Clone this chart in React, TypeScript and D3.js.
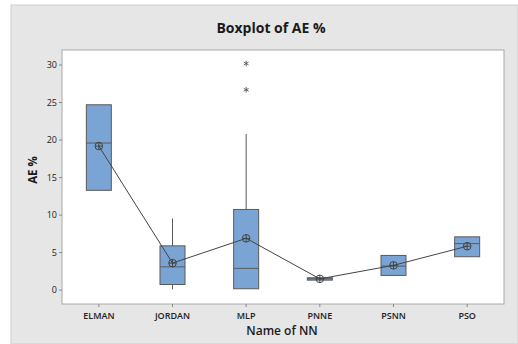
import React from "react";
import * as d3 from "d3";

const categories = ["ELMAN", "JORDAN", "MLP", "PNNE", "PSNN", "PSO"];
const q1 = [13.3, 0.75, 0.18, 1.33, 1.96, 4.45];
const medians = [19.6, 3.1, 2.9, 1.5, 3.2, 6.2];
const q3 = [24.7, 5.9, 10.75, 1.65, 4.62, 7.1];
const whiskerLow = [13.3, 0.1, 0.18, 1.33, 1.96, 4.45];
const whiskerHigh = [24.7, 9.55, 20.8, 1.65, 4.62, 7.1];
const means = [19.2, 3.6, 6.9, 1.5, 3.3, 5.85];
const outliers = [[], [], [30.2, 26.7], [], [], []] as number[][];
const yTicks = [0, 5, 10, 15, 20, 25, 30];

export default function App() {
  const W = 518, H = 344;
  const left = 62, right = 504, top = 50, bottom = 304;
  const x = d3.scalePoint<string>().domain(categories).range([left, right]).padding(0.5);
  const y = d3.scaleLinear().domain([-1.85, 32]).range([bottom, top]);
  const bw = 25;
  const font = "'Open Sans', 'Noto Sans', sans-serif";
  const stroke = "#5a5a5a";
  const line = d3.line<number>().x((_, i) => x(categories[i])!).y((d) => y(d));

  return (
    <svg width={W} height={H} style={{ position: "absolute", left: 0, top: 0 }} fontFamily={font}>
      <rect x={0} y={0} width={W} height={H} fill="#ffffff" />
      <rect x={11} y={5} width={W - 11} height={H - 5} fill="#e6e6e6" stroke="#cfcfcf" />
      <text x={(left + right) / 2 - 12} y={33} textAnchor="middle" fontSize={14} fontWeight="bold" fill="#1a1a1a">
        Boxplot of AE %
      </text>
      <rect x={left} y={top} width={right - left} height={bottom - top} fill="#ffffff" stroke="#a8a8a8" />
      {yTicks.map((t) => (
        <g key={t}>
          <line x1={left - 3} x2={left} y1={y(t)} y2={y(t)} stroke="#888" />
          <text x={left - 5} y={y(t) + 3} textAnchor="end" fontSize={9} fill="#222">
            {t}
          </text>
        </g>
      ))}
      {categories.map((c) => (
        <g key={c}>
          <line x1={x(c)!} x2={x(c)!} y1={bottom} y2={bottom + 3} stroke="#888" />
          <text x={x(c)!} y={bottom + 15} textAnchor="middle" fontSize={9} fontWeight="600" fill="#222">
            {c}
          </text>
        </g>
      ))}
      <text
        transform={`translate(37,${(top + bottom) / 2 - 7}) rotate(-90)`}
        textAnchor="middle"
        fontSize={11.5}
        fontWeight="bold"
        fill="#1a1a1a"
      >
        AE %
      </text>
      <text x={(left + right) / 2 - 1} y={335} textAnchor="middle" fontSize={12} fontWeight="600" fill="#1a1a1a">
        Name of NN
      </text>
      {categories.map((c, i) => {
        const cx = x(c)!;
        return (
          <g key={c}>
            {whiskerHigh[i] > q3[i] && (
              <line x1={cx} x2={cx} y1={y(q3[i])} y2={y(whiskerHigh[i])} stroke={stroke} />
            )}
            {whiskerLow[i] < q1[i] && (
              <line x1={cx} x2={cx} y1={y(q1[i])} y2={y(whiskerLow[i])} stroke={stroke} />
            )}
            <rect
              x={cx - bw / 2}
              y={y(q3[i])}
              width={bw}
              height={y(q1[i]) - y(q3[i])}
              fill="#7aa4d4"
              stroke={stroke}
              strokeWidth={1}
            />
            <line x1={cx - bw / 2} x2={cx + bw / 2} y1={y(medians[i])} y2={y(medians[i])} stroke={stroke} />
            {outliers[i].map((o, j) => {
              const oy = y(o);
              const r = 2.8;
              return (
                <g key={j} stroke="#555" strokeWidth={0.9}>
                  <line x1={cx} x2={cx} y1={oy - r} y2={oy + r} />
                  <line x1={cx - r * 0.87} x2={cx + r * 0.87} y1={oy - r * 0.5} y2={oy + r * 0.5} />
                  <line x1={cx - r * 0.87} x2={cx + r * 0.87} y1={oy + r * 0.5} y2={oy - r * 0.5} />
                </g>
              );
            })}
          </g>
        );
      })}
      <path d={line(means) || ""} fill="none" stroke="#444" strokeWidth={1} />
      {categories.map((c, i) => {
        const cx = x(c)!;
        const cy = y(means[i]);
        return (
          <g key={c} stroke="#444" fill="none" strokeWidth={1}>
            <circle cx={cx} cy={cy} r={3.8} />
            <line x1={cx - 3.8} x2={cx + 3.8} y1={cy} y2={cy} />
            <line x1={cx} x2={cx} y1={cy - 3.8} y2={cy + 3.8} />
          </g>
        );
      })}
    </svg>
  );
}
